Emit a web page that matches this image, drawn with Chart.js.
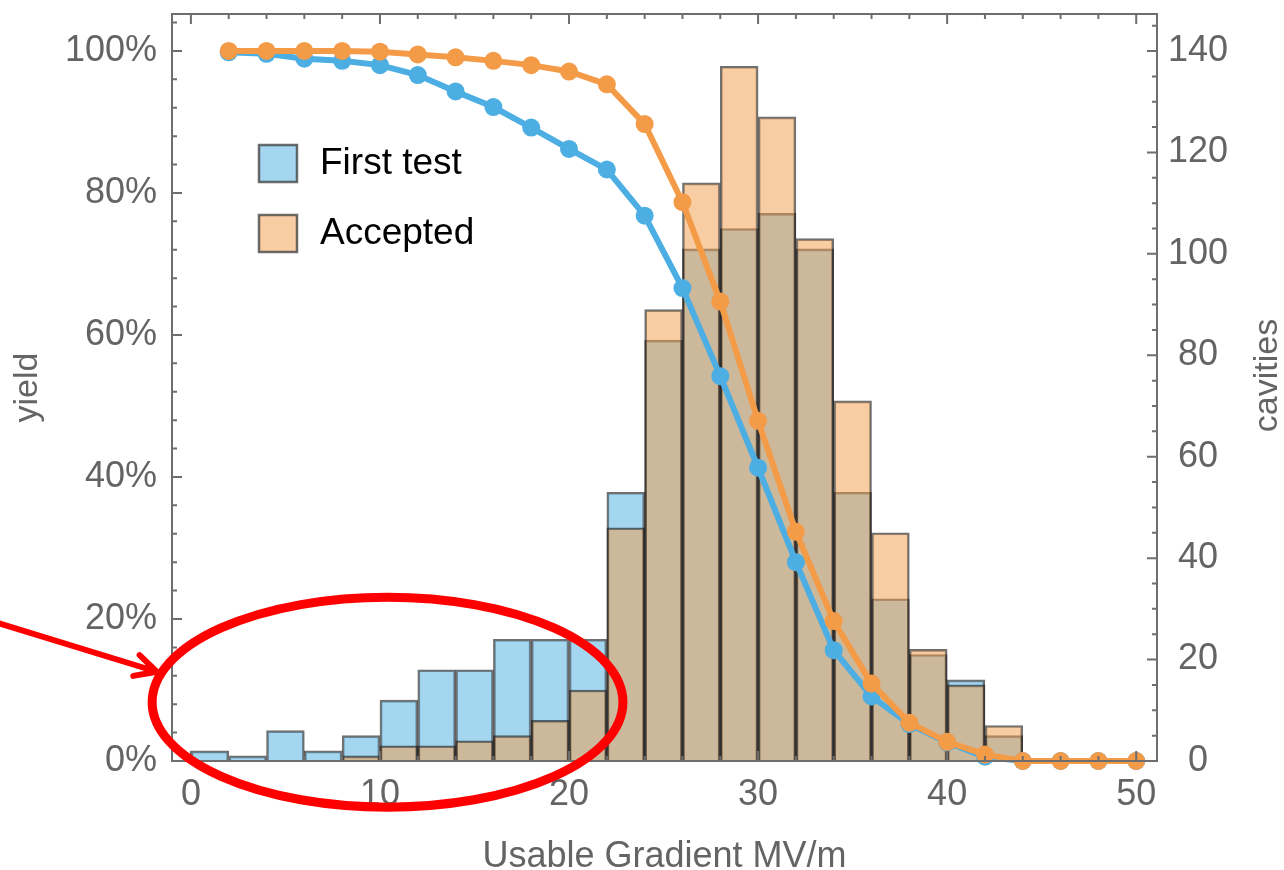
<!DOCTYPE html>
<html>
<head>
<meta charset="utf-8">
<title>Usable gradient yield</title>
<script src="https://cdn.jsdelivr.net/npm/chart.js@4.4.1/dist/chart.umd.min.js"></script>
<style>
  html, body { margin: 0; padding: 0; background: #fff; }
  #wrap { width: 1284px; height: 870px; }
</style>
</head>
<body>
<div id="wrap"><canvas id="gradChart" width="1284" height="870"></canvas></div>
<script>
// histogram bins, 2 MV/m wide, given by their centres
const binCenters = [1, 3, 5, 7, 9, 11, 13, 15, 17, 19, 21, 23, 25, 27, 29, 31, 33, 35, 37, 39, 41, 43];
const firstTestCounts = [2, 1, 6, 2, 5, 12, 18, 18, 24, 24, 24, 53, 83, 101, 105, 108, 101, 53, 32, 21, 16, 5];
const acceptedCounts  = [0, 0, 0, 0, 1, 3, 3, 4, 5, 8, 14, 46, 89, 114, 137, 127, 103, 71, 45, 22, 15, 7];

// yield = share of cavities reaching at least this gradient (%)
const yieldGradients = [2, 4, 6, 8, 10, 12, 14, 16, 18, 20, 22, 24, 26, 28, 30, 32, 34, 36, 38, 40, 42, 44, 46, 48, 50];
const firstTestYield = [99.8, 99.6, 98.9, 98.6, 98.0, 96.6, 94.3, 92.1, 89.2, 86.2, 83.3, 76.8, 66.6, 54.2, 41.3, 28.0, 15.6, 9.1, 5.2, 2.6, 0.6, 0, 0, 0, 0];
const acceptedYield  = [100, 100, 100, 100, 99.9, 99.5, 99.1, 98.6, 98.0, 97.1, 95.3, 89.7, 78.7, 64.7, 47.9, 32.3, 19.7, 10.9, 5.4, 2.7, 0.9, 0, 0, 0, 0];

const gradientTicks = [0, 10, 20, 30, 40, 50];
const yieldTicks = [0, 20, 40, 60, 80, 100];
const cavityTicks = [0, 20, 40, 60, 80, 100, 120, 140];

const seriesNames = ['First test', 'Accepted'];

const BLUE = '#4caee2';
const ORANGE = '#f49b48';
const BLUE_FILL = 'rgba(76,174,226,0.5)';
const ORANGE_FILL = 'rgba(244,155,72,0.5)';
const EDGE = 'rgba(25,25,25,0.62)';
const AXIS_GREY = '#6e6e6e';
const LABEL_GREY = '#646464';
const FONT = '"Liberation Sans", Arial, Helvetica, sans-serif';

function pairs(xs, ys) {
  return xs.map((x, i) => ({ x: x, y: ys[i] }));
}

// fixed axis boxes so the plot area sits where it should
function fixBox(size) {
  return (s) => {
    if (s.isHorizontal()) s.height = size; else s.width = size;
    s.paddingTop = 0;
    s.paddingBottom = 0;
    s.paddingLeft = 0;
    s.paddingRight = 0;
  };
}

// frame round the plot with inward ticks on all four sides
const frameTicks = {
  id: 'frameTicks',
  afterDatasetsDraw(chart) {
    const { ctx, chartArea: a, scales } = chart;
    const x = scales.x, yl = scales.yYield, yr = scales.yCav;
    ctx.save();
    ctx.strokeStyle = AXIS_GREY;
    ctx.lineWidth = 2;
    ctx.beginPath();
    for (let v = 0; v <= 50; v += 2) {
      const px = x.getPixelForValue(v);
      const len = v % 10 === 0 ? 10 : 5;
      ctx.moveTo(px, a.bottom); ctx.lineTo(px, a.bottom - len);
      ctx.moveTo(px, a.top); ctx.lineTo(px, a.top + len);
    }
    for (let v = 0; v <= 104; v += 4) {
      const py = yl.getPixelForValue(v);
      const len = v % 20 === 0 ? 10 : 5;
      ctx.moveTo(a.left, py); ctx.lineTo(a.left + len, py);
    }
    for (let v = 0; v <= 145; v += 5) {
      const py = yr.getPixelForValue(v);
      const len = v % 20 === 0 ? 10 : 5;
      ctx.moveTo(a.right, py); ctx.lineTo(a.right - len, py);
    }
    ctx.stroke();
    ctx.strokeRect(a.left, a.top, a.right - a.left, a.bottom - a.top);
    ctx.restore();
  }
};

// legend inside the upper-left corner of the plot
const boxLegend = {
  id: 'boxLegend',
  afterDatasetsDraw(chart) {
    const { ctx, chartArea: a } = chart;
    const fills = [BLUE_FILL, ORANGE_FILL];
    ctx.save();
    ctx.font = '37px ' + FONT;
    ctx.textBaseline = 'middle';
    seriesNames.forEach((name, i) => {
      const bx = a.left + 87, by = a.top + 131 + i * 70;
      ctx.fillStyle = '#fff';
      ctx.fillRect(bx, by, 38, 37);
      ctx.fillStyle = fills[i];
      ctx.fillRect(bx, by, 38, 37);
      ctx.strokeStyle = 'rgba(60,60,60,0.75)';
      ctx.lineWidth = 2.5;
      ctx.strokeRect(bx, by, 38, 37);
      ctx.fillStyle = '#000';
      ctx.fillText(name, bx + 61, by + 19);
    });
    ctx.restore();
  }
};

// right-hand axis title, reading upwards like the left one
const rightTitle = {
  id: 'rightTitle',
  afterDraw(chart) {
    const { ctx } = chart;
    const s = chart.scales.yCav;
    ctx.save();
    ctx.translate(s.right - 16, (s.top + s.bottom) / 2 - 12);
    ctx.rotate(-Math.PI / 2);
    ctx.font = '34px ' + FONT;
    ctx.fillStyle = LABEL_GREY;
    ctx.textAlign = 'center';
    ctx.textBaseline = 'middle';
    ctx.fillText('cavities', 0, 0);
    ctx.restore();
  }
};

// red ring round the low-gradient bins and the arrow pointing at it
const lowGradientMark = {
  id: 'lowGradientMark',
  afterDraw(chart) {
    const { ctx, scales } = chart;
    const x = scales.x, y = scales.yCav;
    const cx = x.getPixelForValue(10.4), cy = y.getPixelForValue(11.6);
    const rx = x.getPixelForValue(10.4 + 12.45) - cx;
    const ry = cy - y.getPixelForValue(11.6 + 20.7);
    ctx.save();
    ctx.strokeStyle = '#ff0000';
    ctx.lineWidth = 9;
    ctx.beginPath();
    ctx.ellipse(cx, cy, rx, ry, 0, 0, Math.PI * 2);
    ctx.stroke();

    const sx = x.getPixelForValue(-10.2), sy = y.getPixelForValue(27.2);
    const tx = x.getPixelForValue(-1.8), ty = y.getPixelForValue(17.6);
    const ang = Math.atan2(ty - sy, tx - sx);
    ctx.lineWidth = 6;
    ctx.lineCap = 'round';
    ctx.beginPath();
    ctx.moveTo(sx, sy); ctx.lineTo(tx, ty);
    ctx.moveTo(tx - 24 * Math.cos(ang - 0.47), ty - 24 * Math.sin(ang - 0.47));
    ctx.lineTo(tx, ty);
    ctx.lineTo(tx - 24 * Math.cos(ang + 0.47), ty - 24 * Math.sin(ang + 0.47));
    ctx.stroke();
    ctx.restore();
  }
};

const ctx = document.getElementById('gradChart').getContext('2d');

new Chart(ctx, {
  type: 'bar',
  data: {
    datasets: [
      {
        type: 'line',
        label: seriesNames[1] + ' yield',
        data: pairs(yieldGradients, acceptedYield),
        yAxisID: 'yYield',
        borderColor: ORANGE,
        backgroundColor: ORANGE,
        borderWidth: 6,
        pointRadius: 9,
        pointBorderWidth: 0,
        pointBackgroundColor: ORANGE,
        tension: 0,
        clip: false,
        order: 0
      },
      {
        type: 'line',
        label: seriesNames[0] + ' yield',
        data: pairs(yieldGradients, firstTestYield),
        yAxisID: 'yYield',
        borderColor: BLUE,
        backgroundColor: BLUE,
        borderWidth: 6,
        pointRadius: 9,
        pointBorderWidth: 0,
        pointBackgroundColor: BLUE,
        tension: 0,
        clip: false,
        order: 1
      },
      {
        label: seriesNames[1],
        data: pairs(binCenters, acceptedCounts),
        yAxisID: 'yCav',
        backgroundColor: ORANGE_FILL,
        borderColor: EDGE,
        borderWidth: 2,
        borderSkipped: 'start',
        order: 2
      },
      {
        label: seriesNames[0],
        data: pairs(binCenters, firstTestCounts),
        yAxisID: 'yCav',
        backgroundColor: BLUE_FILL,
        borderColor: EDGE,
        borderWidth: 2,
        borderSkipped: 'start',
        order: 3
      }
    ]
  },
  options: {
    responsive: false,
    animation: false,
    layout: { padding: { top: 14, right: 0, bottom: 0, left: 0 } },
    datasets: {
      bar: { grouped: false, barPercentage: 1, categoryPercentage: 1 }
    },
    plugins: {
      legend: { display: false },
      tooltip: { enabled: false }
    },
    scales: {
      x: {
        type: 'linear',
        position: 'bottom',
        min: -1.0,
        max: 51.1,
        offset: false,
        grid: { display: false, drawTicks: false },
        border: { display: false },
        afterBuildTicks: (s) => { s.ticks = gradientTicks.map(v => ({ value: v })); },
        afterFit: fixBox(109),
        ticks: {
          padding: 12,
          maxRotation: 0,
          autoSkip: false,
          color: LABEL_GREY,
          font: { family: FONT, size: 36 }
        },
        title: {
          display: true,
          text: 'Usable Gradient MV/m',
          color: LABEL_GREY,
          font: { family: FONT, size: 36, lineHeight: 1 },
          padding: { top: 0, bottom: -5 }
        }
      },
      yYield: {
        type: 'linear',
        position: 'left',
        min: 0,
        max: 105.2,
        grid: { display: false, drawTicks: false },
        border: { display: false },
        afterBuildTicks: (s) => { s.ticks = yieldTicks.map(v => ({ value: v })); },
        afterFit: fixBox(172),
        ticks: {
          padding: 15,
          color: LABEL_GREY,
          font: { family: FONT, size: 36 },
          callback: (v) => v + '%'
        },
        title: {
          display: true,
          text: 'yield',
          color: LABEL_GREY,
          font: { family: FONT, size: 34, lineHeight: 1 },
          padding: { top: 11, bottom: 0 }
        }
      },
      yCav: {
        type: 'linear',
        position: 'right',
        min: 0,
        max: 147.3,
        grid: { display: false, drawTicks: false },
        border: { display: false },
        afterBuildTicks: (s) => { s.ticks = cavityTicks.map(v => ({ value: v })); },
        afterFit: fixBox(127),
        ticks: {
          padding: 11,
          crossAlign: 'center',
          color: LABEL_GREY,
          font: { family: FONT, size: 36 }
        }
      }
    }
  },
  plugins: [frameTicks, boxLegend, rightTitle, lowGradientMark]
});
</script>
</body>
</html>
